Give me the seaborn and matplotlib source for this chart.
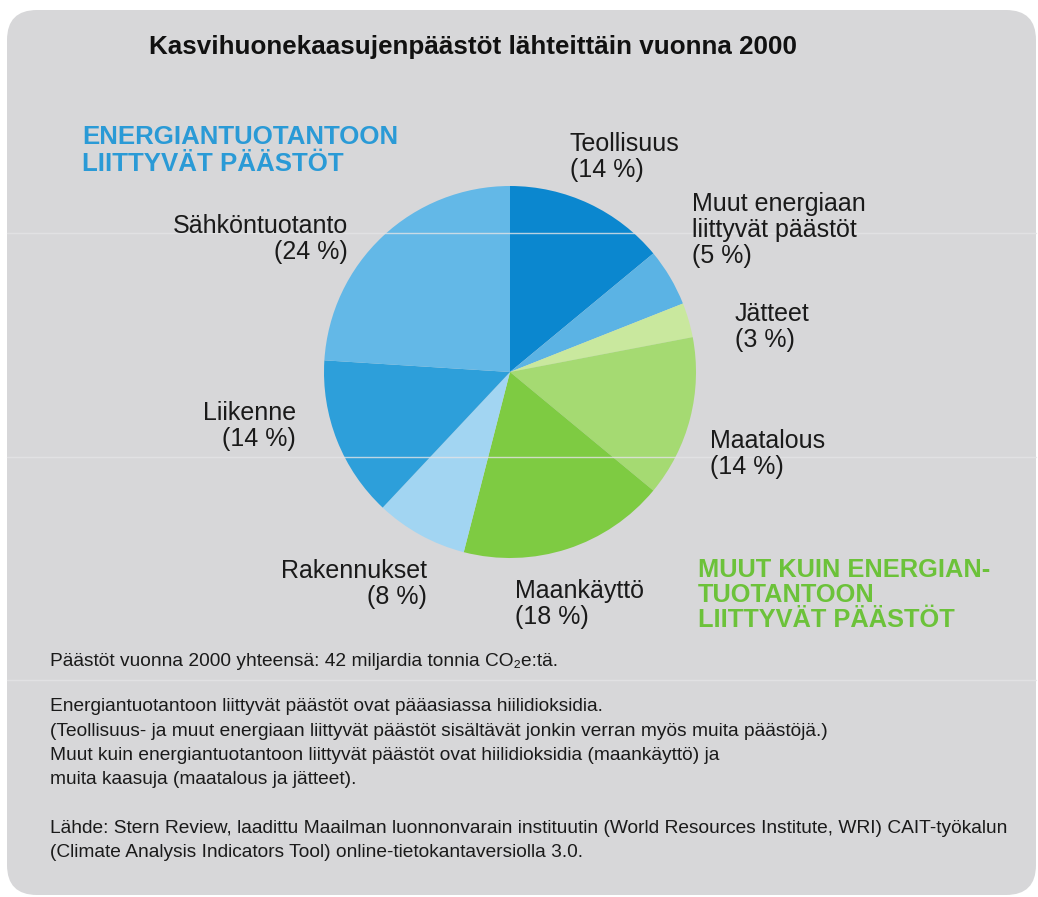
import matplotlib.pyplot as plt
import seaborn as sns
from matplotlib.patches import FancyBboxPatch

# Data
sources = ['Teollisuus', 'Muut energiaan\nliittyvät päästöt', 'Jätteet', 'Maatalous',
           'Maankäyttö', 'Rakennukset', 'Liikenne', 'Sähköntuotanto']
shares = [14, 5, 3, 14, 18, 8, 14, 24]
slice_colors = ['#0b87cf', '#5bb3e4', '#c9e89e', '#a5da72',
                '#7ecb42', '#a2d5f2', '#2d9fda', '#63b8e7']

title = 'Kasvihuonekaasujenpäästöt lähteittäin vuonna 2000'
energy_head = 'ENERGIANTUOTANTOON\nLIITTYVÄT PÄÄSTÖT'
other_head = 'MUUT KUIN ENERGIAN-\nTUOTANTOON\nLIITTYVÄT PÄÄSTÖT'
notes = [
    'Päästöt vuonna 2000 yhteensä: 42 miljardia tonnia CO₂e:tä.',
    'Energiantuotantoon liittyvät päästöt ovat pääasiassa hiilidioksidia.',
    '(Teollisuus- ja muut energiaan liittyvät päästöt sisältävät jonkin verran myös muita päästöjä.)',
    'Muut kuin energiantuotantoon liittyvät päästöt ovat hiilidioksidia (maankäyttö) ja',
    'muita kaasuja (maatalous ja jätteet).',
    'Lähde: Stern Review, laadittu Maailman luonnonvarain instituutin (World Resources Institute, WRI) CAIT-työkalun',
    '(Climate Analysis Indicators Tool) online-tietokantaversiolla 3.0.',
]

# label layout (pixels: anchor x, first baseline y, alignment)
label_pos = [(570, 151, 'left'), (692, 211, 'left'), (735, 321, 'left'), (710, 448, 'left'),
             (515, 598, 'left'), (427, 578, 'right'), (296, 420, 'right'), (348, 233, 'right')]
note_y = [666, 711, 736, 760, 784, 833, 857]

W, H = 1038, 897

sns.set_style('white')
plt.rcParams['font.family'] = ['Liberation Sans', 'DejaVu Sans']

fig = plt.figure(figsize=(W / 100, H / 100), dpi=100)
fig.patch.set_facecolor('white')

# rounded grey panel
panel = FancyBboxPatch((7 / 100, (H - 895) / 100), (1036 - 7) / 100, (895 - 10) / 100,
                       boxstyle='round,pad=0,rounding_size=0.3',
                       transform=fig.dpi_scale_trans, facecolor='#d7d7d9',
                       edgecolor='none', zorder=-5)
fig.patches.append(panel)

# faint scan seams
for yy in [233, 457, 680]:
    fig.add_artist(plt.Line2D([7 / W, 1036 / W], [1 - yy / H, 1 - yy / H],
                              color='#e4e4e6', lw=1, alpha=0.8, zorder=2))


def put(x, y, s, pitch=26, **kw):
    for i, line in enumerate(s.split('\n')):
        fig.text(x / W, 1 - (y + i * pitch) / H, line, va='baseline', zorder=3, **kw)


# pie
cx, cy, r = 510, 372, 186
ax = fig.add_axes([(cx - r) / W, 1 - (cy + r) / H, 2 * r / W, 2 * r / H])
ax.set_zorder(1)
ax.patch.set_visible(False)
ax.pie(shares, colors=slice_colors, startangle=90, counterclock=False,
       wedgeprops=dict(linewidth=0))
ax.set_xlim(-1, 1)
ax.set_ylim(-1, 1)
ax.set_aspect('equal')
ax.axis('off')

put(473, 54, title, fontsize=18.7, fontweight='bold', ha='center', color='#111111')
put(82, 144, energy_head, pitch=27, fontsize=18.6, fontweight='bold', color='#2a9ad6')
put(698, 577, other_head, pitch=25, fontsize=18.3, fontweight='bold', color='#6cc23a')

for name, val, (x, y, ha) in zip(sources, shares, label_pos):
    put(x, y, f'{name}\n({val} %)', fontsize=18, ha=ha, color='#1a1a1a')

for s, y in zip(notes, note_y):
    put(50, y, s, fontsize=13.8, color='#1a1a1a')

fig.savefig('out.png', dpi=100)
